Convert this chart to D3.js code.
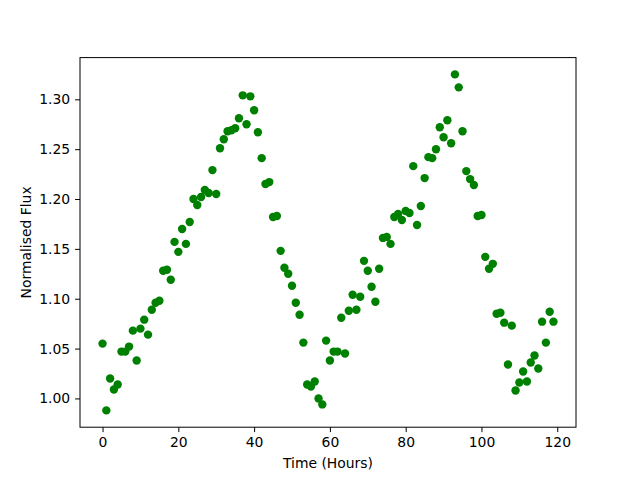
<!DOCTYPE html>
<html>
<head>
<meta charset="utf-8">
<script src="https://cdn.jsdelivr.net/npm/d3@7"></script>
<style>
  body { margin: 0; background: #fff; }
  svg { display: block; font-family: "DejaVu Sans", sans-serif; }
</style>
</head>
<body>
<svg id="chart" width="640" height="480"></svg>
<script>
const hours = d3.range(0, 120);
const flux = [
  1.055, 0.988, 1.020, 1.009, 1.014, 1.047, 1.047, 1.052, 1.068, 1.038,
  1.070, 1.079, 1.064, 1.089, 1.096, 1.098, 1.128, 1.129, 1.119, 1.157,
  1.147, 1.170, 1.155, 1.177, 1.200, 1.194, 1.202, 1.209, 1.206, 1.229,
  1.205, 1.251, 1.260, 1.268, 1.269, 1.271, 1.281, 1.304, 1.275, 1.303,
  1.289, 1.267, 1.241, 1.215, 1.217, 1.182, 1.183, 1.148, 1.131, 1.125,
  1.113, 1.096, 1.084, 1.056, 1.014, 1.012, 1.017, 1.000, 0.994, 1.058,
  1.038, 1.047, 1.047, 1.081, 1.045, 1.088, 1.104, 1.089, 1.102, 1.138,
  1.128, 1.112, 1.097, 1.130, 1.161, 1.162, 1.155, 1.182, 1.185, 1.179,
  1.188, 1.186, 1.233, 1.174, 1.193, 1.221, 1.242, 1.241, 1.250, 1.272,
  1.262, 1.279, 1.256, 1.325, 1.312, 1.268, 1.228, 1.220, 1.214, 1.183,
  1.184, 1.142, 1.130, 1.135, 1.085, 1.086, 1.076, 1.034, 1.073, 1.008,
  1.016, 1.027, 1.017, 1.036, 1.043, 1.030, 1.077, 1.056, 1.087, 1.077
];
const xTicks = [0, 20, 40, 60, 80, 100, 120];
const yTicks = [1.00, 1.05, 1.10, 1.15, 1.20, 1.25, 1.30];
const xLabel = "Time (Hours)";
const yLabel = "Normalised Flux";

const W = 640, H = 480;
const pLeft = 80, pRight = 576, pTop = 57.6, pBottom = 427.2;

const xmin = d3.min(hours), xmax = d3.max(hours);
const xm = (xmax - xmin) * 0.05;
const ymin = d3.min(flux), ymax = d3.max(flux);
const ym = (ymax - ymin) * 0.05;

const x = d3.scaleLinear().domain([xmin - xm, xmax + xm]).range([pLeft, pRight]);
const y = d3.scaleLinear().domain([ymin - ym, ymax + ym]).range([pBottom, pTop]);

const svg = d3.select("#chart");
svg.append("rect").attr("width", W).attr("height", H).attr("fill", "#fff");

const data = hours.map((h, i) => ({ h, f: flux[i] }));

svg.append("g")
  .selectAll("circle")
  .data(data)
  .enter().append("circle")
  .attr("cx", d => x(d.h))
  .attr("cy", d => y(d.f))
  .attr("r", 4.2)
  .attr("fill", "#008000");

svg.append("rect")
  .attr("x", pLeft).attr("y", pTop)
  .attr("width", pRight - pLeft).attr("height", pBottom - pTop)
  .attr("fill", "none").attr("stroke", "#000").attr("stroke-width", 1);

const xAxis = d3.axisBottom(x).tickValues(xTicks).tickSize(4.9).tickPadding(4.9)
  .tickFormat(d3.format("d"));
const gx = svg.append("g").attr("transform", `translate(0,${pBottom})`).call(xAxis);
gx.select(".domain").remove();

const yAxis = d3.axisLeft(y).tickValues(yTicks).tickSize(4.9).tickPadding(4.9)
  .tickFormat(d3.format(".2f"));
const gy = svg.append("g").attr("transform", `translate(${pLeft},0)`).call(yAxis);
gy.select(".domain").remove();

[gx, gy].forEach(g => {
  g.selectAll("text").attr("font-family", "DejaVu Sans, sans-serif")
    .attr("font-size", 13.9).attr("fill", "#000");
  g.selectAll("line").attr("stroke", "#000").attr("stroke-width", 1);
});

svg.append("text")
  .attr("x", (pLeft + pRight) / 2).attr("y", 468)
  .attr("text-anchor", "middle")
  .attr("font-size", 13.9)
  .attr("fill", "#000")
  .text(xLabel);

svg.append("text")
  .attr("transform", `translate(31,${(pTop + pBottom) / 2}) rotate(-90)`)
  .attr("text-anchor", "middle")
  .attr("font-size", 13.9)
  .attr("fill", "#000")
  .text(yLabel);
</script>
</body>
</html>
